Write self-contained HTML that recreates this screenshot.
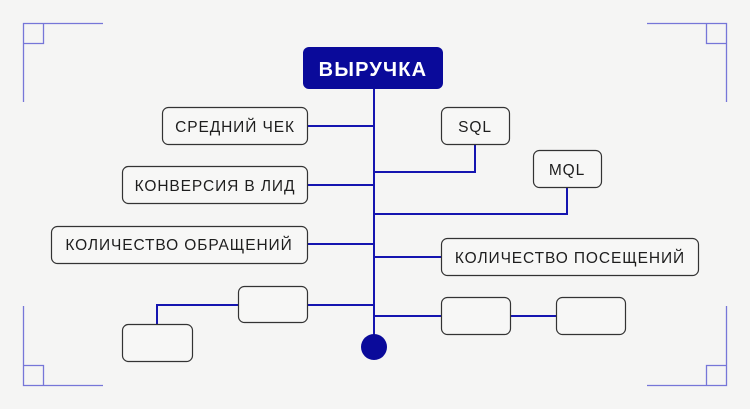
<!DOCTYPE html>
<html><head><meta charset="utf-8"><style>
html,body{margin:0;padding:0;background:#f5f5f4;}
svg{display:block}
text{font-family:"Liberation Sans",sans-serif;font-size:15.5px;fill:#1e1e1e;letter-spacing:0.9px}
</style></head><body>
<svg width="750" height="409" viewBox="0 0 750 409" xmlns="http://www.w3.org/2000/svg">
<rect width="750" height="409" fill="#f5f5f4"/>
<g stroke="#7676d8" stroke-width="1.3" fill="none">
<path d="M103 23.5H23.5V102M23.5 43.5H43.5V23.5"/>
<path d="M647 23.5H726.5V102M726.5 43.5H706.5V23.5"/>
<path d="M103 385.5H23.5V306M23.5 365.5H43.5V385.5"/>
<path d="M647 385.5H726.5V306M726.5 365.5H706.5V385.5"/>
</g>
<g stroke="#1515b0" stroke-width="2" fill="none">
<path d="M374 89V347"/>
<path d="M307 126H374M307 185H374M307 244H374M307 305H374M238 305H157V324"/>
<path d="M475 144V172H374M567 187V214H374M441 257H374M441 316H374M510 316H556"/>
</g>
<circle cx="374" cy="347" r="13" fill="#0a0a9a"/>
<rect x="303" y="47" width="140" height="42" rx="6" fill="#0a0a9a"/>
<text x="373" y="76" text-anchor="middle" style="fill:#fff;font-weight:bold;font-size:20px;letter-spacing:1.2px">ВЫРУЧКА</text>
<g fill="#f7f7f6" stroke="#333" stroke-width="1.2">
<rect x="162.5" y="107.5" width="145" height="37" rx="6"/>
<rect x="122.5" y="166.5" width="185" height="37" rx="6"/>
<rect x="51.5" y="226.5" width="256" height="37" rx="6"/>
<rect x="238.5" y="286.5" width="69" height="36" rx="6"/>
<rect x="122.5" y="324.5" width="70" height="37" rx="6"/>
<rect x="441.5" y="107.5" width="68" height="37" rx="6"/>
<rect x="533.5" y="150.5" width="68" height="37" rx="6"/>
<rect x="441.5" y="238.5" width="257" height="37" rx="6"/>
<rect x="441.5" y="297.5" width="69" height="37" rx="6"/>
<rect x="556.5" y="297.5" width="69" height="37" rx="6"/>
</g>
<text x="235" y="132" text-anchor="middle">СРЕДНИЙ ЧЕК</text>
<text x="215" y="191" text-anchor="middle">КОНВЕРСИЯ В ЛИД</text>
<text x="179" y="250" text-anchor="middle">КОЛИЧЕСТВО ОБРАЩЕНИЙ</text>
<text x="475" y="132" text-anchor="middle">SQL</text>
<text x="567" y="175" text-anchor="middle">MQL</text>
<text x="570" y="263" text-anchor="middle">КОЛИЧЕСТВО ПОСЕЩЕНИЙ</text>
</svg>
</body></html>
